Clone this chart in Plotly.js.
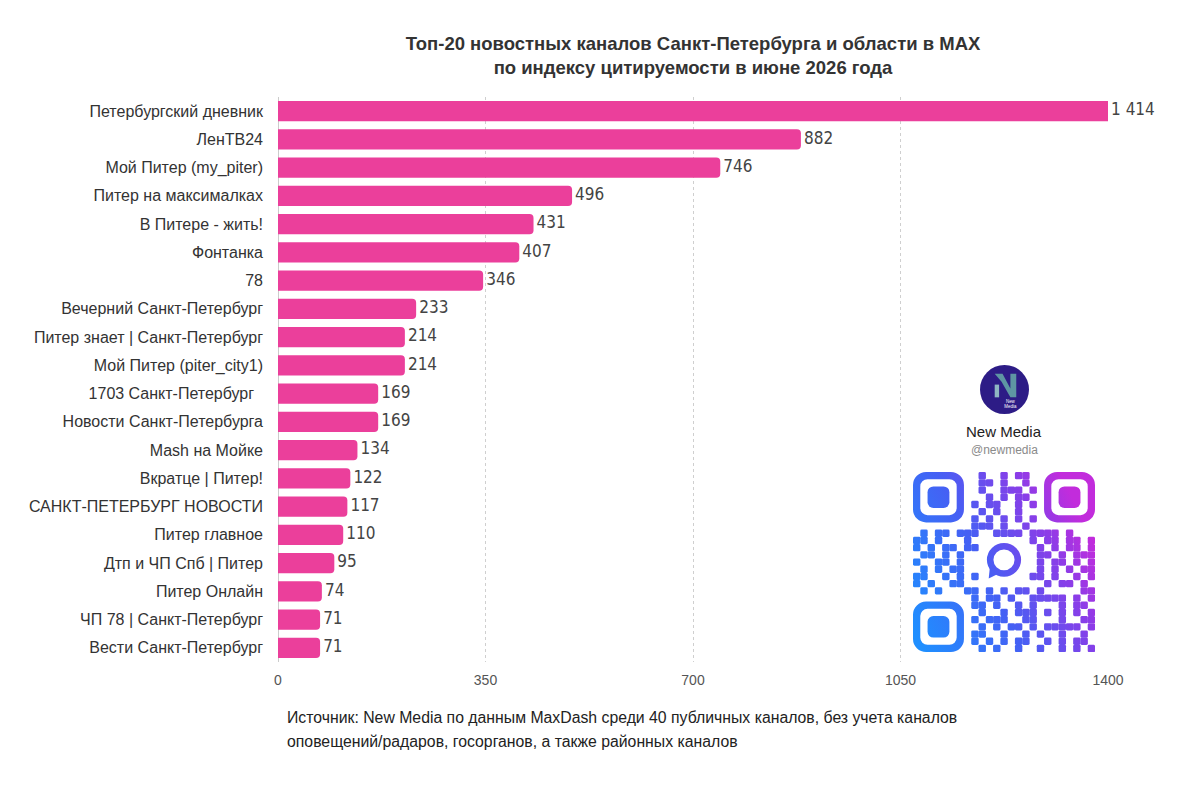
<!DOCTYPE html>
<html><head><meta charset="utf-8">
<script src="https://cdn.plot.ly/plotly-3.0.1.min.js"></script>
<style>html,body{margin:0;padding:0;background:#fff}</style>
</head><body><div id="chart" style="width:1200px;height:788px"></div>
<script>
const categories = ["Петербургский дневник","ЛенТВ24","Мой Питер (my_piter)","Питер на максималках","В Питере - жить!","Фонтанка","78","Вечерний Санкт-Петербург","Питер знает | Санкт-Петербург","Мой Питер (piter_city1)","1703 Санкт-Петербург\u00a0\u00a0","Новости Санкт-Петербурга","Mash на Мойке","Вкратце | Питер!","САНКТ-ПЕТЕРБУРГ НОВОСТИ","Питер главное","Дтп и ЧП Спб | Питер","Питер Онлайн","ЧП 78 | Санкт-Петербург","Вести Санкт-Петербург"];
const values = [1414,882,746,496,431,407,346,233,214,214,169,169,134,122,117,110,95,74,71,71];
const tickValues = [0,350,700,1050,1400];
const xMax = 1400;
const titleLines = ["Топ-20 новостных каналов Санкт-Петербурга и области в MAX","по индексу цитируемости в июне 2026 года"];
const sourceLines = ["Источник: New Media по данным MaxDash среди 40 публичных каналов, без учета каналов","оповещений/радаров, госорганов, а также районных каналов"];
const brandName = "New Media";
const brandHandle = "@newmedia";

// plot-area pixel frame
const L = 278, R = 1108, T = 97, B = 662;
const px = x => (x - L) / (R - L);
const py = y => (B - y) / (B - T);

function fmt(v){ return "\u2009" + String(v).replace(/\B(?=(\d{3})+(?!\d))/g, "\u00a0"); }

// decorative QR-like graphic
const qrRows = [
"#######..#..#.##..#######",
"#.....#..##.#..#..#.....#",
"#.###.#..#..###.#.#.###.#",
"#.###.#...#.#.##..#.###.#",
"#.###.#.#.##..#.#.#.###.#",
"#.....#..#.#..#..##.....#",
"#######.#.#.#.#.#.#######",
"........###.#..#.........",
".#.##.###..####.####.#...",
"##.#...#..#.#...#.##.##.#",
"#.#.##.##......#.#.#.##.#",
".##.#.#..........##.#.###",
"#..##.#..........#.##.#.#",
".#.#.##..........#.#.#.##",
"##..#.#.#.......##.#..#.#",
"#.#..##..#.#.#.#..#.##.#.",
".#.#...##.#.#.##.#.....##",
"........#.##.#..#####.#.#",
"#######.##.#..#.#...#.##.",
"#.....#..#..#.###.#.#.#.#",
"#.###.#.#.###..##...#..##",
"#.###.#..#.#.##.#.#####.#",
"#.###.#.##..#..#.#..#..#.",
"#.....#.#.#.#.##..#.#.##.",
"#######..#.#..#..#..#.#.#"];
function qrSvg(){
  let s = '<svg xmlns="http://www.w3.org/2000/svg" viewBox="0 0 250 250" width="250" height="250">';
  s += '<defs><linearGradient id="g" gradientUnits="userSpaceOnUse" x1="0" y1="220" x2="250" y2="100">'+
       '<stop offset="0" stop-color="#1f8fff"/><stop offset="0.45" stop-color="#4560f4"/><stop offset="0.8" stop-color="#8a3de8"/><stop offset="1" stop-color="#c22cdc"/></linearGradient></defs>';
  s += '<g fill="url(#g)">';
  const inFinder = (r,c) => (r<8&&c<8)||(r<8&&c>16)||(r>16&&c<8);
  const inCenter = (r,c) => (r>=9&&r<=15&&c>=9&&c<=15);
  for(let r=0;r<25;r++) for(let c=0;c<25;c++){
    if(qrRows[r][c]==='#' && !inFinder(r,c) && !inCenter(r,c)){
      s += '<rect x="'+(c*10)+'" y="'+(r*10)+'" width="10.2" height="10.2" rx="2"/>';
    }
  }
  [[0,0],[180,0],[0,180]].forEach(([x,y])=>{
    s += '<path fill-rule="evenodd" d="M'+(x+18)+','+y+' h34 a18,18 0 0 1 18,18 v34 a18,18 0 0 1 -18,18 h-34 a18,18 0 0 1 -18,-18 v-34 a18,18 0 0 1 18,-18 z M'+(x+20)+','+(y+10)+' h30 a10,10 0 0 1 10,10 v30 a10,10 0 0 1 -10,10 h-30 a10,10 0 0 1 -10,-10 v-30 a10,10 0 0 1 10,-10 z"/>';
    s += '<rect x="'+(x+20)+'" y="'+(y+20)+'" width="30" height="30" rx="8"/>';
  });
  s += '</g>';
  s += '<circle cx="125" cy="122" r="19" fill="none" stroke="url(#g)" stroke-width="9"/>';
  s += '<path d="M106,128 L104,148 L120,140 Z" fill="url(#g)"/>';
  s += '</svg>';
  return 'data:image/svg+xml;utf8,' + encodeURIComponent(s);
}
function logoSvg(){
  let s = '<svg xmlns="http://www.w3.org/2000/svg" viewBox="0 0 100 100" width="100" height="100">';
  s += '<circle cx="50" cy="50" r="50" fill="#2d1c86"/>';
  s += '<path d="M30,18 L46,18 L62,48 L62,18 L74,18 L74,66 L62,66 L44,34 Z" fill="#5e96a3"/>';
  s += '<rect x="30" y="40" width="9" height="26" fill="#8fb6c2"/>';
  s += '<text x="62" y="78" font-family="Liberation Sans, Arial" font-size="9" fill="#ffffff" text-anchor="middle">New</text>';
  s += '<text x="62" y="88" font-family="Liberation Sans, Arial" font-size="9" fill="#ffffff" text-anchor="middle">Media</text>';
  s += '</svg>';
  return 'data:image/svg+xml;utf8,' + encodeURIComponent(s);
}

const narrow = "Liberation Sans Narrow, DejaVu Sans Condensed, Arial Narrow, sans-serif";
const regular = "Liberation Sans, Arial, Helvetica, sans-serif";

const barTrace = {
  type: "bar", orientation: "h",
  x: values, y: categories,
  marker: {color: "#eb3f9b", cornerradius: 4},
  cliponaxis: true,
  hoverinfo: "skip"
};
const labelTrace = {
  type: "scatter", mode: "text",
  x: values.map(v => Math.min(v, xMax)), y: categories,
  text: values.map(fmt),
  textposition: "middle right",
  textfont: {family: narrow, size: 17, color: "#444"},
  cliponaxis: false,
  hoverinfo: "skip", showlegend: false
};

const layout = {
  width: 1200, height: 788,
  paper_bgcolor: "#ffffff", plot_bgcolor: "#ffffff",
  margin: {l: L, r: 1200 - R, t: T, b: 788 - B},
  showlegend: false,
  bargap: 0.29,
  hovermode: false,
  title: {
    text: titleLines.join("<br>"),
    font: {family: regular, size: 18.5, color: "#333", weight: "bold"},
    x: 0.5, xref: "paper", xanchor: "center",
    y: 1 - 50/788, yref: "container", yanchor: "top"
  },
  xaxis: {
    range: [0, xMax],
    tickvals: tickValues,
    ticktext: tickValues.map(String),
    showgrid: true, gridcolor: "#cfcfcf", griddash: "dot", gridwidth: 1,
    zeroline: true, zerolinecolor: "#cccccc", zerolinewidth: 1,
    showline: false, ticks: "",
    ticklabelstandoff: 8,
    tickfont: {family: regular, size: 14, color: "#555"},
    fixedrange: true
  },
  yaxis: {
    type: "category",
    range: [categories.length - 0.5, -0.5],
    showgrid: false, zeroline: false, showline: false, ticks: "",
    ticklabelstandoff: 14,
    tickfont: {family: regular, size: 16, color: "#333"},
    fixedrange: true
  },
  annotations: [
    {text: sourceLines[0], xref: "paper", yref: "paper", x: px(285), y: py(718), xanchor: "left", yanchor: "middle", showarrow: false, font: {family: regular, size: 15.8, color: "#222"}},
    {text: sourceLines[1], xref: "paper", yref: "paper", x: px(285), y: py(741), xanchor: "left", yanchor: "middle", showarrow: false, font: {family: regular, size: 15.8, color: "#222"}},
    {text: brandName, xref: "paper", yref: "paper", x: px(1004), y: py(431), xanchor: "center", yanchor: "middle", showarrow: false, font: {family: regular, size: 15, color: "#222"}},
    {text: brandHandle, xref: "paper", yref: "paper", x: px(1004), y: py(450), xanchor: "center", yanchor: "middle", showarrow: false, font: {family: regular, size: 12, color: "#8a8a8a"}}
  ],
  images: [
    {source: qrSvg(), xref: "paper", yref: "paper", x: px(913), y: py(472), sizex: (1095-913)/(R-L), sizey: (652-472)/(B-T), xanchor: "left", yanchor: "top", sizing: "stretch", layer: "above"},
    {source: logoSvg(), xref: "paper", yref: "paper", x: px(980), y: py(365), sizex: 49/(R-L), sizey: 49/(B-T), xanchor: "left", yanchor: "top", sizing: "stretch", layer: "above"}
  ]
};

Plotly.newPlot("chart", [barTrace, labelTrace], layout, {displayModeBar: false, staticPlot: true});
</script>
</body></html>
